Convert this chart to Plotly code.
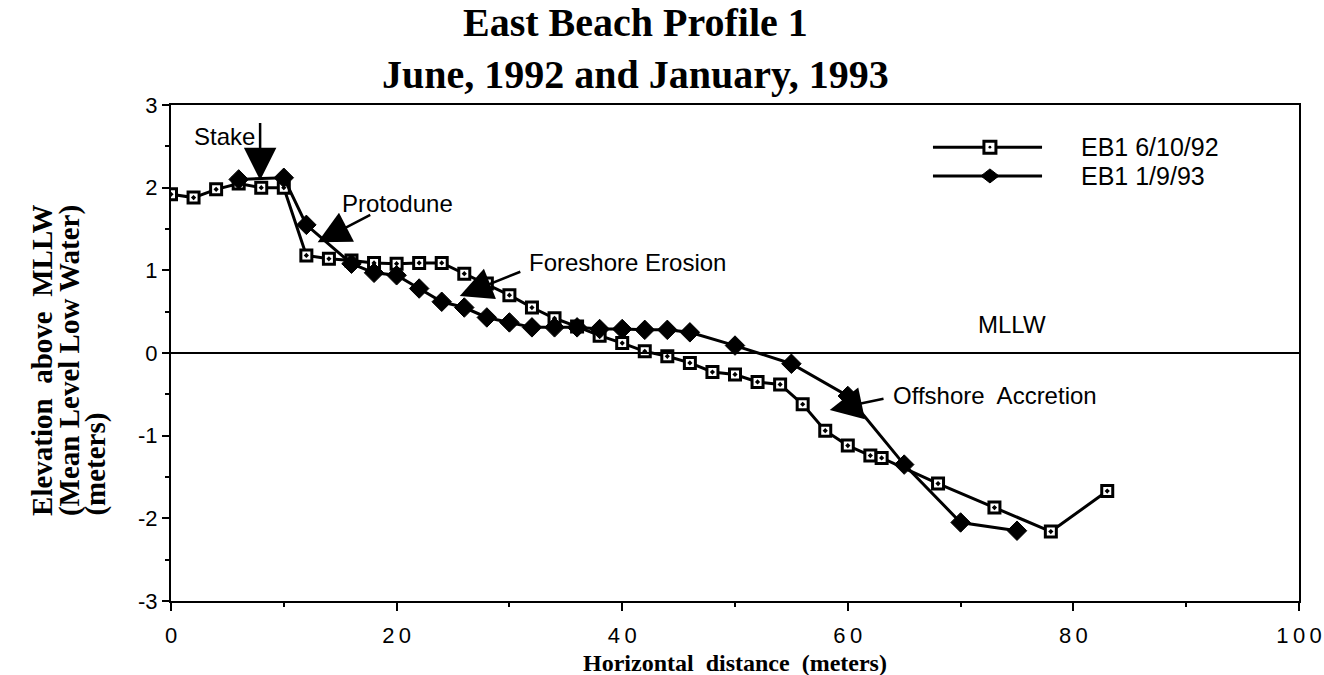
import plotly.graph_objects as go

# ---- data ----
x_jun92 = [0, 2, 4, 6, 8, 10, 12, 14, 16, 18, 20, 22, 24, 26, 28, 30, 32, 34, 36, 38,
           40, 42, 44, 46, 48, 50, 52, 54, 56, 58, 60, 62, 63, 68, 73, 78, 83]
y_jun92 = [1.92, 1.88, 1.98, 2.05, 2.0, 2.0, 1.18, 1.14, 1.12, 1.09, 1.08, 1.09, 1.09, 0.96,
           0.84, 0.70, 0.55, 0.42, 0.32, 0.21, 0.12, 0.02, -0.04, -0.12, -0.23, -0.26,
           -0.35, -0.38, -0.62, -0.94, -1.12, -1.24, -1.27, -1.58, -1.87, -2.16, -1.67]

x_jan93 = [6, 10, 12, 16, 18, 20, 22, 24, 26, 28, 30, 32, 34, 36, 38, 40, 42, 44, 46,
           50, 55, 60, 65, 70, 75]
y_jan93 = [2.1, 2.12, 1.55, 1.08, 0.97, 0.94, 0.78, 0.62, 0.55, 0.43, 0.37, 0.31, 0.31,
           0.31, 0.29, 0.29, 0.28, 0.28, 0.25, 0.09, -0.13, -0.52, -1.35, -2.05, -2.15]

series_names = ["EB1 6/10/92", "EB1 1/9/93"]

x_tickvals = [0, 20, 40, 60, 80, 100]
x_ticktext = ["0", "2\u20090", "4\u20090", "6\u20090", "8\u20090", "1\u20090\u20090"]
y_tickvals = [-3, -2, -1, 0, 1, 2, 3]
y_ticktext = ["-3", "-2", "-1", "0", "1", "2", "3"]

# callouts: (label, text x, text y, tail x, tail y, tip x, tip y)
callouts = [
    ("Stake", 4.7, 2.62, 7.9, 2.80, 7.9, 2.09),
    ("Protodune", 15.0, 1.81, 17.8, 1.68, 13.0, 1.34),
    ("Foreshore Erosion", 31.6, 1.10, 31.1, 0.99, 25.6, 0.69),
    ("Offshore  Accretion", 63.8, -0.51, 63.3, -0.55, 58.4, -0.69),
]
mllw_label = ("MLLW", 74.6, 0.34)

SERIF = "Liberation Serif, Times New Roman, serif"
SANS = "Liberation Sans, Arial, Helvetica, sans-serif"

fig = go.Figure()
fig.add_trace(go.Scatter(
    x=x_jun92, y=y_jun92, mode="lines+markers", name=series_names[0],
    line=dict(color="black", width=3),
    marker=dict(symbol="square-dot", size=11, color="white",
                line=dict(color="black", width=3)),
    showlegend=False,
))
fig.add_trace(go.Scatter(
    x=x_jan93, y=y_jan93, mode="lines+markers", name=series_names[1],
    line=dict(color="black", width=3),
    marker=dict(symbol="diamond", size=15, color="black",
                line=dict(color="black", width=1)),
    showlegend=False,
))

shapes = []
# MLLW reference line
shapes.append(dict(type="line", xref="paper", x0=0, x1=1, yref="y", y0=0, y1=0,
                   line=dict(color="black", width=2)))

# hand-drawn style legend
leg_x0, leg_x1, leg_mx, leg_tx = 0.6755, 0.7722, 0.726, 0.805
leg_y = [0.915, 0.857]
for yy in leg_y:
    shapes.append(dict(type="line", xref="paper", yref="paper", x0=leg_x0, x1=leg_x1,
                       y0=yy, y1=yy, line=dict(color="black", width=3)))
shapes.append(dict(type="rect", xref="paper", yref="paper", xsizemode="pixel",
                   ysizemode="pixel", xanchor=leg_mx, yanchor=leg_y[0],
                   x0=-6, x1=6, y0=-6, y1=6, fillcolor="white",
                   line=dict(color="black", width=3)))
shapes.append(dict(type="circle", xref="paper", yref="paper", xsizemode="pixel",
                   ysizemode="pixel", xanchor=leg_mx, yanchor=leg_y[0],
                   x0=-1.4, x1=1.4, y0=-1.4, y1=1.4, fillcolor="black",
                   line=dict(color="black", width=0)))
shapes.append(dict(type="path", xref="paper", yref="paper", xsizemode="pixel",
                   ysizemode="pixel", xanchor=leg_mx, yanchor=leg_y[1],
                   path="M -9,0 L 0,7 L 9,0 L 0,-7 Z", fillcolor="black",
                   line=dict(color="black", width=1)))

annotations = []
for name, yy in zip(series_names, leg_y):
    annotations.append(dict(text=name, xref="paper", yref="paper", x=leg_tx, y=yy,
                            xanchor="left", yanchor="middle", showarrow=False,
                            font=dict(family=SANS, size=25, color="black")))

for label, tx, ty, ax, ay, px, py in callouts:
    annotations.append(dict(text="", x=px, y=py, ax=ax, ay=ay, xref="x", yref="y",
                            axref="x", ayref="y", showarrow=True, arrowhead=2,
                            arrowsize=2.6, arrowwidth=2.5, arrowcolor="black",
                            standoff=0, startstandoff=0))
    annotations.append(dict(text=label, x=tx, y=ty, xref="x", yref="y",
                            xanchor="left" if label != "Stake" else "center",
                            yanchor="middle", showarrow=False,
                            font=dict(family=SANS, size=24, color="black")))

annotations.append(dict(text=mllw_label[0], x=mllw_label[1], y=mllw_label[2],
                        xref="x", yref="y", showarrow=False,
                        font=dict(family=SANS, size=24, color="black")))

# title (two lines)
annotations.append(dict(text="<b>East Beach Profile 1<br>June, 1992 and January, 1993</b>",
                        xref="paper", yref="paper", x=0.412, y=1.113,
                        xanchor="center", yanchor="middle", showarrow=False,
                        font=dict(family=SERIF, size=40, color="black")))

# axis titles
annotations.append(dict(text="<b>Horizontal  distance  (meters)</b>", xref="paper",
                        yref="paper", x=0.5, y=-0.125, xanchor="center",
                        yanchor="middle", showarrow=False,
                        font=dict(family=SERIF, size=24, color="black")))
ytitle_lines = ["<b>Elevation  above  MLLW</b>", "<b>(Mean Level Low Water)</b>",
                "<b>(meters)</b>"]
ytitle_x = [-0.115, -0.0905, -0.067]
for line, xx in zip(ytitle_lines, ytitle_x):
    annotations.append(dict(text=line, xref="paper", yref="paper", x=xx, y=0.168,
                            xanchor="center", yanchor="bottom", textangle=-90,
                            showarrow=False,
                            font=dict(family=SERIF, size=29, color="black")))

fig.update_layout(
    template="none",
    width=1324, height=675,
    margin=dict(l=171, r=25, t=105, b=74, pad=0, autoexpand=False),
    paper_bgcolor="white", plot_bgcolor="white",
    shapes=shapes, annotations=annotations,
    showlegend=False,
)
fig.update_xaxes(
    range=[0, 100], tickvals=x_tickvals, ticktext=x_ticktext, automargin=False,
    showgrid=False, zeroline=False,
    showline=True, mirror=True, linecolor="black", linewidth=2,
    ticks="outside", ticklen=8, tickwidth=2, tickcolor="black",
    ticklabelstandoff=6,
    tickfont=dict(family=SANS, size=22, color="black"),
    minor=dict(dtick=10, ticks="outside", ticklen=4, tickwidth=2, tickcolor="black",
               showgrid=False),
)
fig.update_yaxes(
    range=[-3, 3], tickvals=y_tickvals, ticktext=y_ticktext, automargin=False,
    showgrid=False, zeroline=False,
    showline=True, mirror=True, linecolor="black", linewidth=2,
    ticks="outside", ticklen=7, tickwidth=2, tickcolor="black",
    tickfont=dict(family=SANS, size=22, color="black"),
    minor=dict(dtick=0.5, ticks="outside", ticklen=4, tickwidth=2, tickcolor="black",
               showgrid=False),
)

fig.write_html(
    "out.html",
    config={"displayModeBar": False},
    post_script="document.body.style.margin='0px';document.body.style.padding='0px';"
                "document.documentElement.style.overflow='hidden';",
)
